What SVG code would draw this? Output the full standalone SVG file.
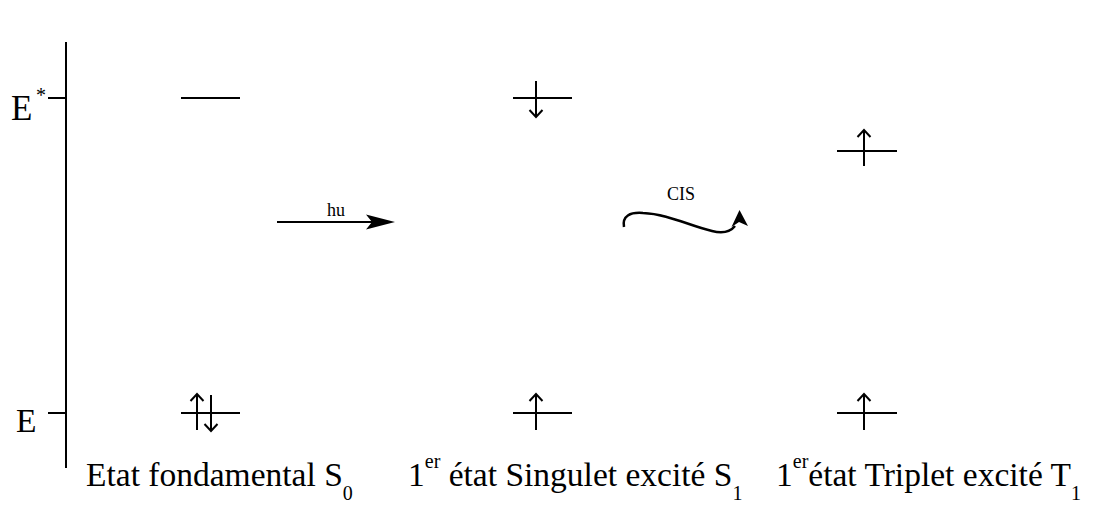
<svg xmlns="http://www.w3.org/2000/svg" xmlns:xlink="http://www.w3.org/1999/xlink" width="1095" height="513" viewBox="0 0 1095 513">
  <style>
    .ln { stroke: #000; stroke-width: 2; fill: none; }
    .spin { stroke: #000; stroke-width: 2; fill: none; stroke-linejoin: miter; }
    .lbl { font-family: "Liberation Serif", "Times New Roman", serif; fill: #000; }
    .big { font-size: 33.5px; }
    .sub { font-size: 20px; }
    .small { font-size: 18px; }
  </style>
  <defs>
    <!-- electron spin: vertical stroke with an open chevron at the top -->
    <path id="spin-up" class="spin" d="M0,0 V36 M-6.5,7 L0,0 L6.5,7"/>
    <!-- same, pointing down -->
    <path id="spin-down" class="spin" d="M0,0 V36 M-6.5,29 L0,36 L6.5,29"/>
  </defs>
  <rect width="1095" height="513" fill="#fff"/>

  <!-- energy axis -->
  <g id="axis">
    <line class="ln" x1="66" y1="42" x2="66" y2="468"/>
    <line class="ln" x1="48" y1="98" x2="66" y2="98"/>
    <line class="ln" x1="48" y1="413" x2="66" y2="413"/>
    <text class="lbl" x="11" y="120" font-size="35">E</text>
    <text class="lbl sub" x="36" y="102">*</text>
    <text class="lbl big" x="16" y="432">E</text>
  </g>

  <!-- ground state S0 -->
  <g id="state-S0">
    <line class="ln" x1="181" y1="98" x2="240" y2="98"/>
    <line class="ln" x1="181" y1="413" x2="240" y2="413"/>
    <use xlink:href="#spin-up" x="197" y="394"/>
    <use xlink:href="#spin-down" x="211" y="395"/>
    <text class="lbl big" x="86" y="486">Etat fondamental S<tspan class="sub" dy="14">0</tspan></text>
  </g>

  <!-- first excited singlet S1 -->
  <g id="state-S1">
    <line class="ln" x1="513" y1="98" x2="572" y2="98"/>
    <line class="ln" x1="513" y1="413" x2="572" y2="413"/>
    <use xlink:href="#spin-down" x="536" y="81"/>
    <use xlink:href="#spin-up" x="536" y="394"/>
    <text class="lbl big" x="408" y="486">1<tspan class="sub" dy="-18">er</tspan><tspan dy="18"> état Singulet excité S</tspan><tspan class="sub" dy="14">1</tspan></text>
  </g>

  <!-- first excited triplet T1 -->
  <g id="state-T1">
    <line class="ln" x1="837" y1="151" x2="897" y2="151"/>
    <line class="ln" x1="837" y1="413" x2="897" y2="413"/>
    <use xlink:href="#spin-up" x="864" y="130"/>
    <use xlink:href="#spin-up" x="864" y="394"/>
    <text class="lbl big" x="776" y="486">1<tspan class="sub" dy="-18">er</tspan><tspan dy="18">état Triplet excité T</tspan><tspan class="sub" dy="14">1</tspan></text>
  </g>

  <!-- transitions -->
  <g id="connectors">
    <g id="absorption">
      <line class="ln" x1="277" y1="222" x2="378" y2="222"/>
      <polygon points="395,222 366,214.5 372,222 366,229.5" fill="#000"/>
      <text class="lbl small" x="336" y="216" text-anchor="middle">hu</text>
    </g>
    <g id="isc">
      <path d="M624,227 C622,216 630,212 643,213 C668,214 690,226 712,231 C724,234 731,231 735,226" fill="none" stroke="#000" stroke-width="2.5"/>
      <polygon points="739.5,210 748,226 739,222 731.5,227" fill="#000"/>
      <text class="lbl small" x="681" y="200" text-anchor="middle">CIS</text>
    </g>
  </g>
</svg>
